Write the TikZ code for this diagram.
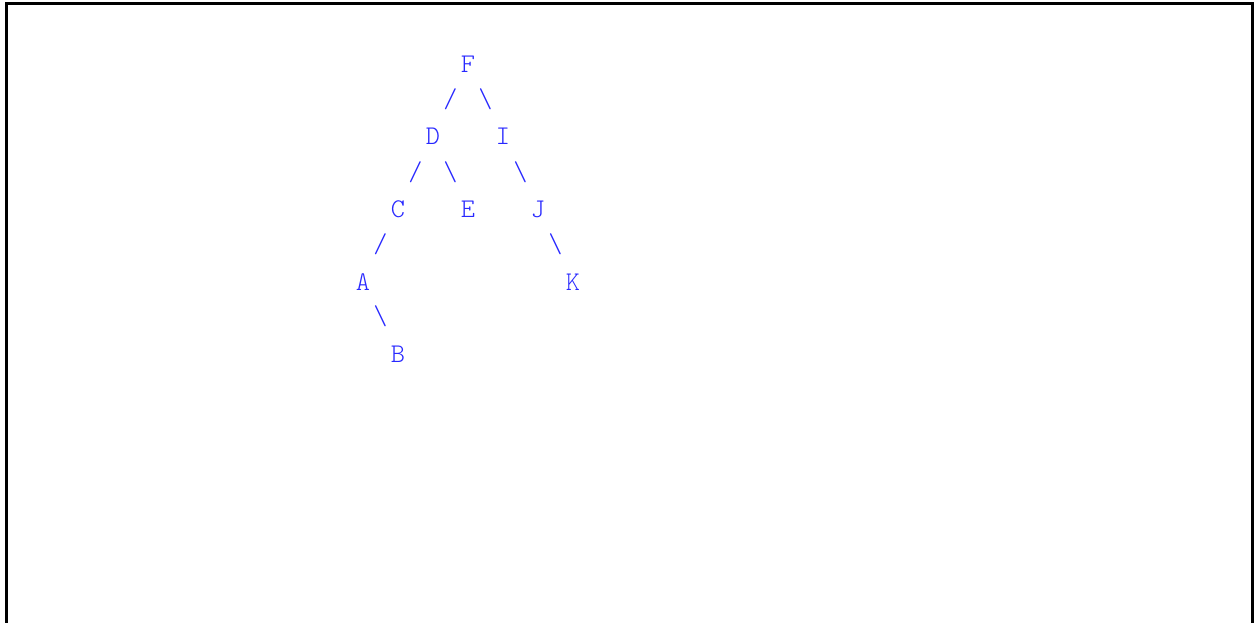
\documentclass[tikz,border=0pt]{standalone}
\definecolor{treeblue}{RGB}{40,40,255}
\tikzset{
  letter/.style={font=\fontsize{27}{32}\fontseries{l}\ttfamily\selectfont, text=treeblue, inner sep=0pt, anchor=base},
  edgech/.style={font=\fontsize{27}{32}\fontseries{l}\ttfamily\selectfont, text=treeblue, inner sep=0pt, anchor=center},
  frame/.style={line width=3pt, draw=black}
}
\begin{document}
\begin{tikzpicture}[x=1pt,y=1pt]
\useasboundingbox (0,0) rectangle (1254,623);
\draw[frame] (6,-2) -- (6,619) -- (1252,619) -- (1252,-2);
% letters
\node[letter] (F) at (468,550.7) {F};
\node[letter] (D) at (433,478.1) {D};
\node[letter] (I) at (503,478.1) {I};
\node[letter] (C) at (398,405.5) {C};
\node[letter] (E) at (468,405.5) {E};
\node[letter] (J) at (538,405.5) {J};
\node[letter] (A) at (363,332.9) {A};
\node[letter] (K) at (573,332.9) {K};
\node[letter] (B) at (398,260.3) {B};
% edge characters
\node[edgech] (FD) at (450.5,524) {/};
\node[edgech] (FI) at (485.5,524) {\char`\\};
\node[edgech] (DC) at (415.5,451) {/};
\node[edgech] (DE) at (450.5,451) {\char`\\};
\node[edgech] (IJ) at (520.5,451) {\char`\\};
\node[edgech] (CA) at (380.5,379) {/};
\node[edgech] (JK) at (555.5,379) {\char`\\};
\node[edgech] (AB) at (380.5,307) {\char`\\};
\end{tikzpicture}
\end{document}
